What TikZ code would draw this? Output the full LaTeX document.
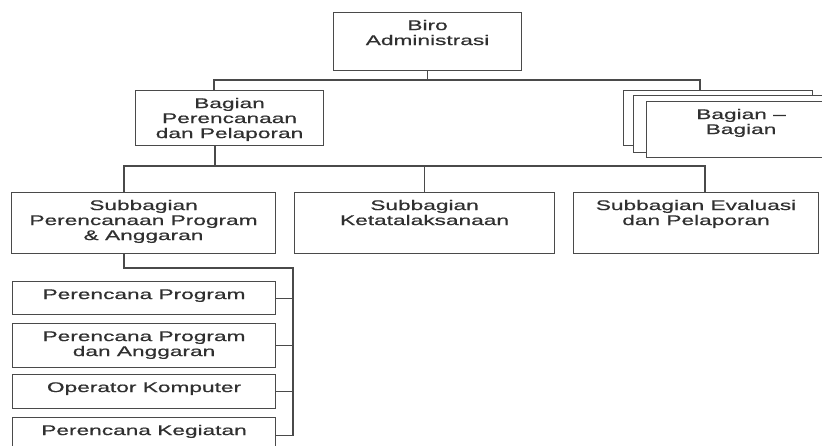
\documentclass[tikz,border=0pt]{standalone}
\usepackage{fontspec}
\setmainfont{Liberation Sans}[FakeStretch=1.62, FakeBold=0.6]
\usepackage{xcolor}
\usepackage{tikz}
\definecolor{inkgray}{HTML}{303030}
\definecolor{rulegray}{HTML}{4A4A4A}

\begin{document}
\begin{tikzpicture}[x=1pt, y=-1pt,
    unit/.style={draw=rulegray, line width=1.1pt, fill=white, anchor=north west, align=center, inner xsep=0pt, inner ysep=7.5pt, text=inkgray, font=\fontsize{14}{15}\selectfont},
    wire/.style={draw=rulegray, line width=1.1pt}]
    \clip (0,0) rectangle (822,445);
    \node[unit, minimum width=188pt, text height=25pt, text depth=18pt] (biro) at (333,12) {Biro\\Administrasi};
    \node[unit, minimum width=188pt, text height=40pt, text depth=0pt] (bagpp) at (135,90) {Bagian\\Perencanaan\\dan Pelaporan};
    \node[unit, minimum width=189pt, text height=10pt, text depth=30pt] (baglain1) at (623,90) {};
    \node[unit, minimum width=189pt, text height=10pt, text depth=32pt] (baglain2) at (633,95) {};
    \node[unit, minimum width=189pt, text height=25pt, text depth=16pt] (baglain3) at (646,101) {Bagian –\\Bagian};
    \node[unit, minimum width=264pt, text height=40pt, text depth=6pt] (sbpp) at (11,192) {Subbagian\\Perencanaan Program\\\& Anggaran};
    \node[unit, minimum width=260pt, text height=25pt, text depth=21pt] (sbkt) at (294,192) {Subbagian\\Ketatalaksanaan};
    \node[unit, minimum width=245pt, text height=25pt, text depth=21pt] (sbep) at (573,192) {Subbagian Evaluasi\\dan Pelaporan};
    \node[unit, minimum width=263pt, text height=10pt, text depth=8pt] (pk1) at (12,281) {Perencana Program};
    \node[unit, minimum width=263pt, text height=25pt, text depth=4pt] (pk2) at (12,323) {Perencana Program\\dan Anggaran};
    \node[unit, minimum width=263pt, text height=10pt, text depth=9pt] (pk3) at (12,374) {Operator Komputer};
    \node[unit, minimum width=263pt, text height=10pt, text depth=11pt] (pk4) at (12,417) {Perencana Kegiatan};
    \coordinate (busA) at (214,80);
    \coordinate (busB) at (700,80);
    \coordinate (busC) at (124,166);
    \coordinate (busD) at (705,166);
    \coordinate (busE) at (215,166);
    \coordinate (busF) at (124,268);
    \coordinate (busG) at (293,268);
    \draw[wire] (biro.south) -- (biro.south |- busA);
    \draw[wire] (bagpp.north -| busA) -- (busA) -- (busB) -- (baglain1.north -| busB);
    \draw[wire] (bagpp.south -| busE) -- (busE);
    \draw[wire] (sbpp.north -| busC) -- (busC) -- (busD) -- (sbep.north -| busD);
    \draw[wire] (sbkt.north) -- (sbkt.north |- busC);
    \draw[wire] (sbpp.south -| busF) -- (busF) -- (busG) -- (busG |- pk4.east);
    \foreach \k in {pk1,pk2,pk3,pk4}
      \draw[wire] (\k.east) -- (\k.east -| busG);
  \end{tikzpicture}
\end{document}
